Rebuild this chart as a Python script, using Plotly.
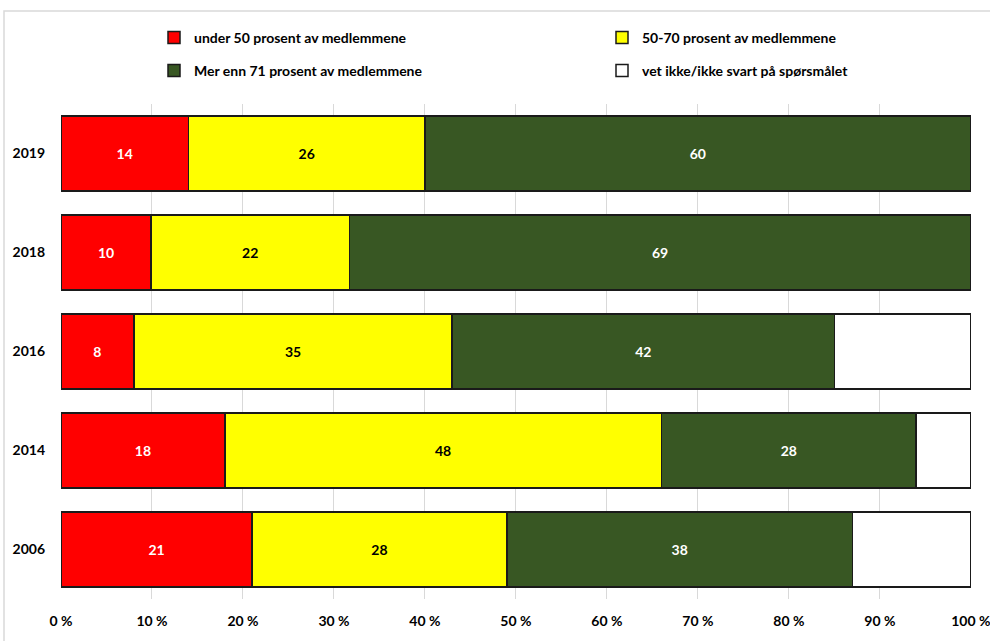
import plotly.graph_objects as go

# Survey years (top to bottom) and answer shares per category
years = ["2019", "2018", "2016", "2014", "2006"]
under_50 = [14, 10, 8, 18, 21]
from_50_to_70 = [26, 22, 35, 48, 28]
over_71 = [60, 69, 42, 28, 38]
dont_know = [0, 0, 15, 6, 13]

series_names = [
    "under 50 prosent av medlemmene",
    "50-70 prosent av medlemmene",
    "Mer enn 71 prosent av medlemmene",
    "vet ikke/ikke svart på spørsmålet",
]
tick_values = [0, 10, 20, 30, 40, 50, 60, 70, 80, 90, 100]
tick_labels = ["0 %", "10 %", "20 %", "30 %", "40 %", "50 %", "60 %", "70 %", "80 %", "90 %", "100 %"]

FONT = "Lato, Roboto, sans-serif"
colors = ["#FF0000", "#FFFF00", "#385723", "#FFFFFF"]
label_colors = ["#FFFFFF", "#000000", "#FFFFFF", "#000000"]
legend_ids = ["legend", "legend2", "legend3", "legend4"]

# plot area in pixels: x 61..971, y 104..599
PX_L, PX_W, PX_B, PX_H = 61, 910, 599, 495


def px_x(p):
    return (p - PX_L) / PX_W


def px_y(p):
    return (PX_B - p) / PX_H


fig = go.Figure()
for name, vals, col, lcol, lg, show_text in zip(
    series_names,
    [under_50, from_50_to_70, over_71, dont_know],
    colors, label_colors, legend_ids, [True, True, True, False],
):
    fig.add_trace(go.Bar(
        y=years, x=vals, name=name, orientation="h",
        marker=dict(color=col, line=dict(color="#1a1a1a", width=1.5)),
        text=[str(v) if (show_text and v) else "" for v in vals],
        textposition="inside", insidetextanchor="middle",
        textfont=dict(family=FONT, size=14, color=lcol, weight="bold"),
        legend=lg, showlegend=True, hoverinfo="name+x",
    ))

legend_style = dict(
    orientation="h", xanchor="left", yanchor="middle",
    font=dict(family=FONT, size=14, color="#000000", weight="bold"),
    bgcolor="rgba(0,0,0,0)", itemwidth=30,
)
# 2 x 2 legend grid: (left px of legend box, row centre px)
legend_pos = [(154, 38), (602, 38), (154, 71), (602, 71)]
legend_layout = {
    lid: dict(x=px_x(lx), y=px_y(ly), **legend_style)
    for lid, (lx, ly) in zip(legend_ids, legend_pos)
}

fig.update_layout(
    width=990, height=641,
    margin=dict(l=PX_L, r=990 - PX_L - PX_W, t=PX_B - PX_H, b=641 - PX_B),
    paper_bgcolor="white", plot_bgcolor="white",
    showlegend=True,
    barmode="stack", barnorm="percent", bargap=0.24,
    **legend_layout,
    xaxis=dict(
        range=[0, 100.02], tickvals=tick_values, ticktext=tick_labels,
        showgrid=True, gridcolor="#d9d9d9", gridwidth=1.3,
        zeroline=False, showline=False, ticks="",
        ticklabelstandoff=12, ticklabeloverflow="allow", automargin=False,
        tickfont=dict(family=FONT, size=14, color="#000000", weight="bold"),
        fixedrange=True,
    ),
    yaxis=dict(
        categoryorder="array", categoryarray=years[::-1],
        showgrid=False, zeroline=False, showline=False, ticks="",
        ticklabelstandoff=15, automargin=False,
        tickfont=dict(family=FONT, size=14, color="#000000", weight="bold"),
        fixedrange=True,
    ),
    shapes=[dict(
        type="rect", xref="paper", yref="paper",
        x0=px_x(4), x1=1.1, y0=-0.2, y1=px_y(11),
        line=dict(color="#d9d9d9", width=1.5), fillcolor="rgba(0,0,0,0)",
        layer="below",
    )],
)

fig.write_html("out.html")
